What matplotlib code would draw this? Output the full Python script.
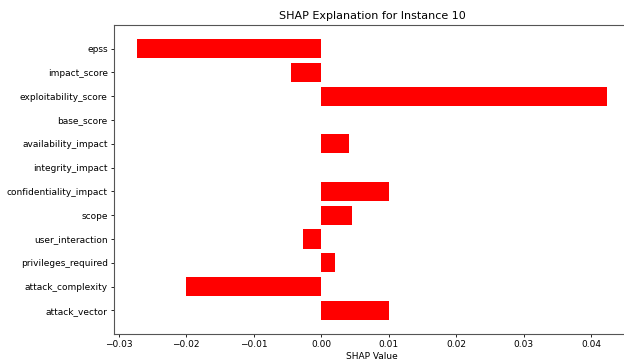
import matplotlib
matplotlib.use("Agg")
import matplotlib.pyplot as plt

features = ["attack_vector", "attack_complexity", "privileges_required", "user_interaction",
            "scope", "confidentiality_impact", "integrity_impact", "availability_impact",
            "base_score", "exploitability_score", "impact_score", "epss"]
shap_values = [0.0100, -0.0200, 0.0020, -0.0026, 0.0046, 0.0100, 0.0, 0.0041,
               0.0, 0.0423, -0.0044, -0.0272]

fig = plt.figure(figsize=(6.24, 3.64), dpi=100)
ax = fig.add_axes([114/624, 30/364, 516/624, 309/364])
ax.barh(features, shap_values, color="red", height=0.8)
ax.set_title("SHAP Explanation for Instance 10", fontsize=8, pad=4)
ax.set_xlabel("SHAP Value", fontsize=6.5, labelpad=2)
ax.tick_params(labelsize=6.5, length=2.5, width=0.6, pad=2)
for s in ax.spines.values():
    s.set_linewidth(0.8)
    s.set_color("#555555")
fig.savefig("out.png", dpi=100)
